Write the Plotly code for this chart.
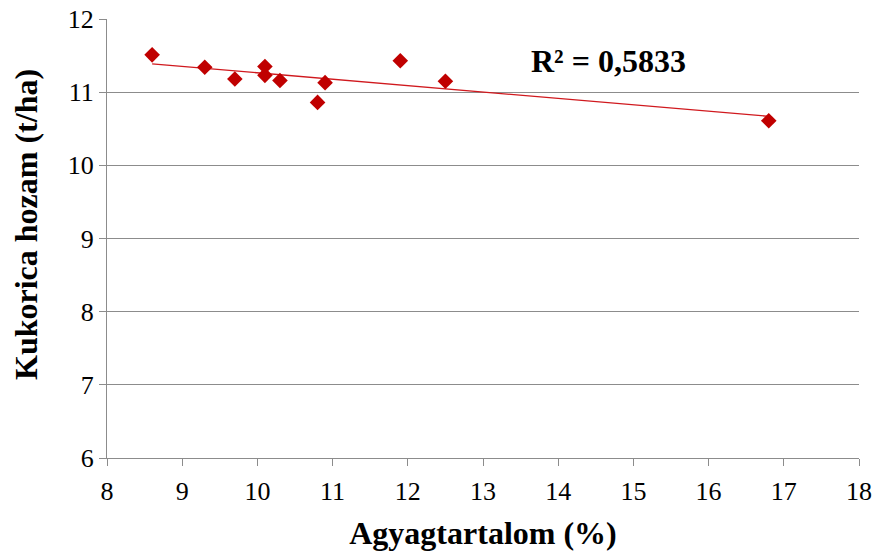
import numpy as np
import plotly.graph_objects as go

# Clay content (%) and maize yield (t/ha)
clay = [8.6, 9.3, 9.7, 10.1, 10.1, 10.3, 10.8, 10.9, 11.9, 12.5, 16.8]
yield_t = [11.51, 11.34, 11.18, 11.35, 11.23, 11.16, 10.86, 11.13, 11.43, 11.15, 10.61]
r2_label = "R² = 0,5833"
x_title = "Agyagtartalom (%)"
y_title = "Kukorica hozam (t/ha)"

x_ticks = list(range(8, 19))
y_ticks = list(range(6, 13))

# Linear trend line over the data range
slope, intercept = np.polyfit(clay, yield_t, 1)
trend_x = [min(clay), max(clay)]
trend_y = [slope * v + intercept for v in trend_x]

font_family = "Liberation Serif"
red = "#C00000"

fig = go.Figure()
fig.add_trace(go.Scatter(
    x=trend_x, y=trend_y, mode="lines",
    line=dict(color="#D0191E", width=1.3),
    hoverinfo="skip", showlegend=False,
))
fig.add_trace(go.Scatter(
    x=clay, y=yield_t, mode="markers",
    marker=dict(symbol="diamond", size=12, color=red),
    showlegend=False,
))

fig.add_annotation(
    x=14.67, y=11.43, xref="x", yref="y", text=f"<b>{r2_label}</b>",
    showarrow=False, font=dict(family=font_family, size=32, color="black"),
)

# Vertical axis title placed as a rotated annotation beside the plot
fig.add_annotation(
    x=26, y=225, xref="paper", yref="paper", text=f"<b>{y_title}</b>",
    textangle=-90, showarrow=False, xanchor="center", yanchor="middle",
    font=dict(family=font_family, size=32, color="black"),
)

fig.update_layout(
    width=878, height=554,
    margin=dict(l=107, r=19, t=19, b=96, autoexpand=False),
    paper_bgcolor="white", plot_bgcolor="white",
    font=dict(family=font_family, color="black"),
)
# convert the pixel position of the y title into paper coordinates
plot_w = 878 - 107 - 19
plot_h = 554 - 19 - 96
ann = fig.layout.annotations[1]
ann.x = (ann.x - 107) / plot_w
ann.y = (554 - 96 - ann.y) / plot_h

fig.update_xaxes(
    range=[8, 18], tickvals=x_ticks, showgrid=False, zeroline=False,
    showline=True, linecolor="#8c8c8c", linewidth=1, automargin=False,
    ticks="outside", ticklen=7, tickcolor="#8c8c8c", ticklabelstandoff=3,
    tickfont=dict(size=26, family=font_family),
    title=dict(text=f"<b>{x_title}</b>", font=dict(size=32, family=font_family), standoff=16),
)
fig.update_yaxes(
    range=[6, 12], tickvals=y_ticks, showgrid=True, gridcolor="#8c8c8c", gridwidth=1,
    zeroline=False, showline=True, linecolor="#8c8c8c", linewidth=1, automargin=False,
    ticks="outside", ticklen=7, tickcolor="#8c8c8c",
    tickfont=dict(size=26, family=font_family),
)

fig.write_html("out.html")
